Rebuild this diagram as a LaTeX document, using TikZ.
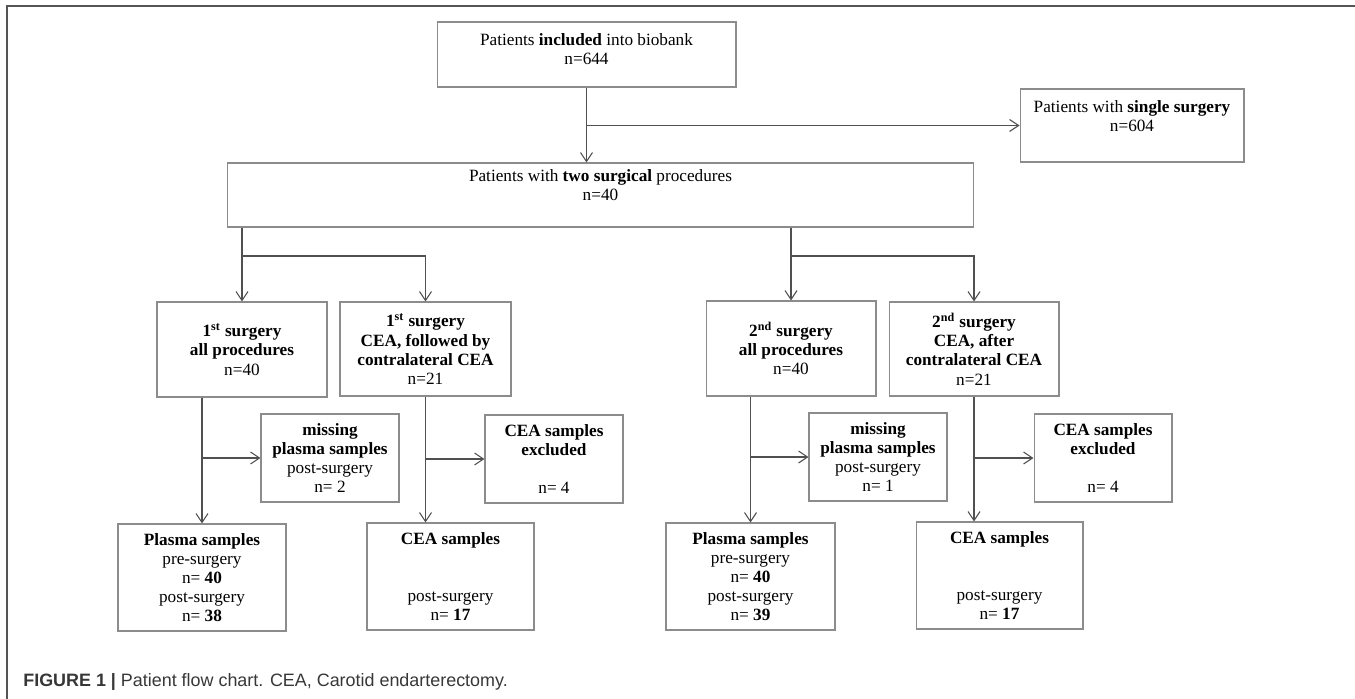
\documentclass[tikz,border=0pt]{standalone}
\usepackage{fontspec}
\setmainfont{Liberation Serif}
\newfontfamily\capfont{Liberation Sans}
\usepackage{tikz}
\usetikzlibrary{arrows.meta, positioning, calc}
\definecolor{BoxGray}{RGB}{140, 140, 140}
\definecolor{LineGray}{RGB}{80, 80, 80}
\definecolor{FrameGray}{RGB}{85, 85, 85}
\definecolor{CapGray}{RGB}{55, 55, 55}

\begin{document}
\begin{tikzpicture}[x=0.02cm, y=-0.02cm,
    font=\fontsize{9.8}{10.9}\selectfont,
    box/.style={draw=BoxGray, line width=0.6pt, align=center, inner sep=1pt},
    arr/.style={draw=LineGray, line width=0.6pt, -{Straight Barb[length=1.8mm, width=2.4mm]}}]
    \useasboundingbox (0,0) rectangle (1355,699);

    % Rahmen
    \draw[FrameGray, line width=1.1pt] (7,699) -- (7,6) -- (1355,6);

    % obere Ebene
    \node[box, minimum width=59.8mm, minimum height=13mm] (incl) at (586.5,54.5)
        {Patients \textbf{included} into biobank\\ n=644\\[-4.5pt] \mbox{}};
    \node[box, minimum width=44.8mm, minimum height=14.6mm] (single) at (1132,125.5)
        {Patients with \textbf{single surgery}\\ n=604\\ \mbox{}};
    \node[box, minimum width=149.4mm, minimum height=12.8mm] (two) at (600.5,195)
        {Patients with \textbf{two surgical} procedures\\ n=40\\ \mbox{}};

    % erste / zweite Operation
    \node[box, minimum width=34mm, minimum height=19mm] (firstall) at (242,349.5)
        {\textbf{1\textsuperscript{st} surgery}\\ \textbf{all procedures}\\ n=40};
    \node[box, minimum width=34.2mm, minimum height=18.8mm] (firstcea) at (425.5,349)
        {\textbf{1\textsuperscript{st} surgery}\\ \textbf{CEA, followed by}\\ \textbf{contralateral CEA}\\ n=21};
    \node[box, minimum width=34mm, minimum height=19mm] (secondall) at (791,348.5)
        {\textbf{2\textsuperscript{nd} surgery}\\ \textbf{all procedures}\\ n=40};
    \node[box, minimum width=34mm, minimum height=18.8mm] (secondcea) at (974,349)
        {\textbf{2\textsuperscript{nd} surgery}\\ \textbf{CEA, after}\\ \textbf{contralateral CEA}\\ n=21};

    % Ausschluss
    \node[box, minimum width=27.6mm, minimum height=17.6mm] (missA) at (330,458)
        {\textbf{missing}\\ \textbf{plasma samples}\\ post-surgery\\ n= 2};
    \node[box, minimum width=27.6mm, minimum height=17.6mm] (exclB) at (554,459)
        {\textbf{CEA samples}\\ \textbf{excluded}\\ \mbox{}\\ n= 4};
    \node[box, minimum width=27.6mm, minimum height=17.6mm] (missC) at (878,457)
        {\textbf{missing}\\ \textbf{plasma samples}\\ post-surgery\\ n= 1};
    \node[box, minimum width=27.6mm, minimum height=17.6mm] (exclD) at (1103,458)
        {\textbf{CEA samples}\\ \textbf{excluded}\\ \mbox{}\\ n= 4};

    % Proben
    \node[box, minimum width=33.6mm, minimum height=21.4mm] (plasmaA) at (202,577.5)
        {\textbf{Plasma samples}\\ pre-surgery\\ n= \textbf{40}\\ post-surgery\\ n= \textbf{38}};
    \node[box, minimum width=33.4mm, minimum height=21.4mm] (ceaB) at (450.5,576.5)
        {\textbf{CEA samples}\\ \mbox{}\\ \mbox{}\\ post-surgery\\ n= \textbf{17}};
    \node[box, minimum width=33.8mm, minimum height=21.4mm] (plasmaC) at (750.5,576.5)
        {\textbf{Plasma samples}\\ pre-surgery\\ n= \textbf{40}\\ post-surgery\\ n= \textbf{39}};
    \node[box, minimum width=33.4mm, minimum height=21.4mm] (ceaD) at (999.5,575.5)
        {\textbf{CEA samples}\\ \mbox{}\\ \mbox{}\\ post-surgery\\ n= \textbf{17}};

    % Pfeile oben
    \draw[arr] (incl.south) -- (incl.south |- two.north);
    \draw[arr] (incl.south |- single.west) -- (single.west);

    % Verzweigungen
    \coordinate (splitA) at (242,256);
    \coordinate (splitC) at (791,256);
    \draw[arr] (two.south -| firstall) -- (firstall.north);
    \draw[arr] (splitA) -| (firstcea.north);
    \draw[arr] (two.south -| secondall) -- (secondall.north);
    \draw[arr] (splitC) -| (secondcea.north);

    % zu den Proben
    \draw[arr] (firstall.south -| plasmaA) -- (plasmaA.north);
    \draw[arr] (plasmaA |- missA.west) -- (missA.west);
    \draw[arr] (firstcea.south) -- (firstcea.south |- ceaB.north);
    \draw[arr] (firstcea.south |- exclB.west) -- (exclB.west);
    \draw[arr] (secondall.south -| plasmaC) -- (plasmaC.north);
    \draw[arr] (plasmaC |- missC.west) -- (missC.west);
    \draw[arr] (secondcea.south) -- (secondcea.south |- ceaD.north);
    \draw[arr] (secondcea.south |- exclD.west) -- (exclD.west);

    % Bildunterschrift
    \node[anchor=base west, inner sep=0pt, text=CapGray, font=\capfont\fontsize{10.2}{12}\selectfont] (caption) at (23,686)
        {\textbf{FIGURE 1 |} Patient flow chart. CEA, Carotid endarterectomy.};
\end{tikzpicture}
\end{document}
